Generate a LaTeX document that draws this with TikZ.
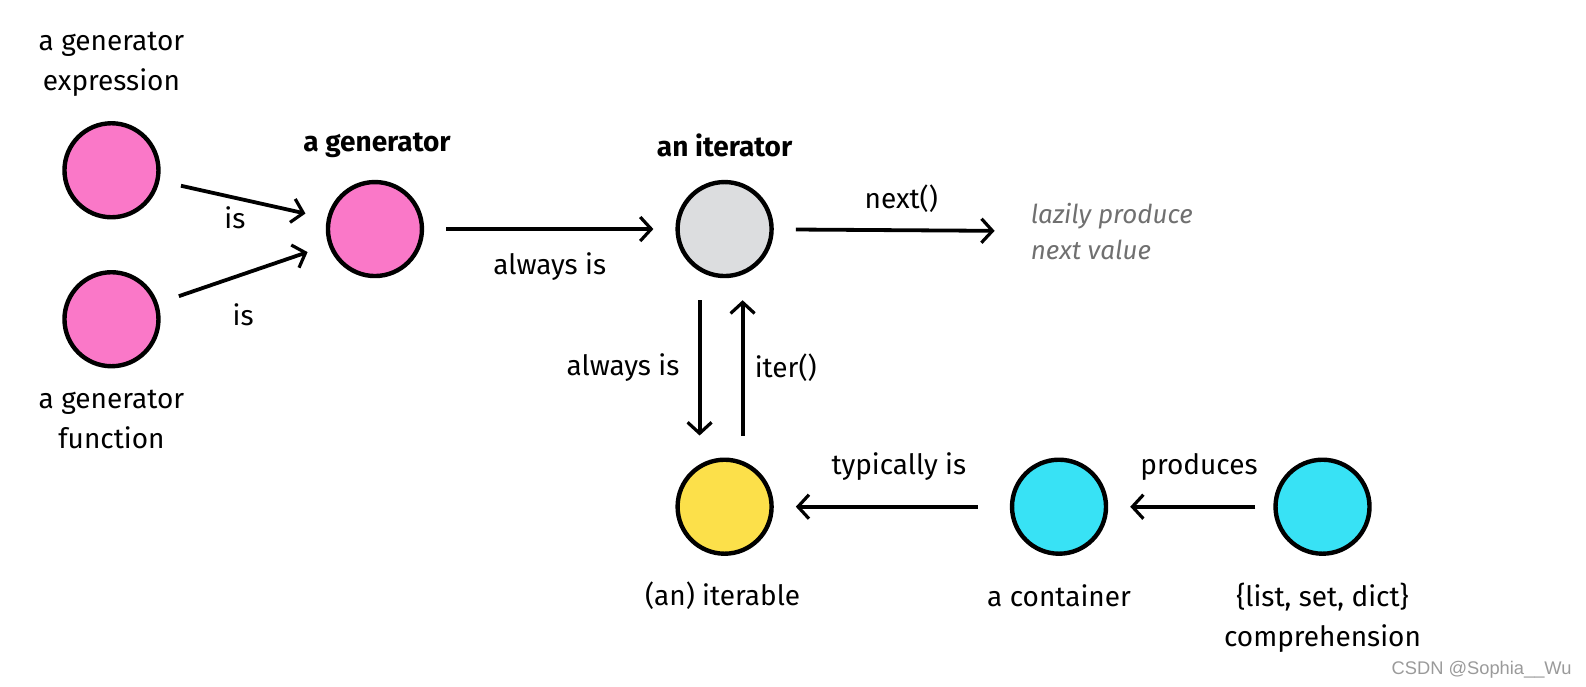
\documentclass[tikz,border=0pt]{standalone}
\usepackage{fontspec}
\setmainfont{Fira Sans}
\newfontfamily\markfont{Liberation Sans}
\usetikzlibrary{positioning, arrows.meta}
\definecolor{genpink}{HTML}{FA78C8}
\definecolor{itergray}{HTML}{DCDDDF}
\definecolor{iteryellow}{HTML}{FCE04A}
\definecolor{contcyan}{HTML}{38E2F5}
\definecolor{lazygray}{HTML}{707070}
\definecolor{markgray}{HTML}{9A9A9A}
\tikzset{
  thing/.style={
    circle,
    draw=black, line width=4.4pt,
    minimum size=94pt,
    inner sep=0pt
  },
  caption/.style={
    align=center,
    inner sep=2pt
  },
  heading/.style={
    caption,
    font=\fontsize{28}{40}\selectfont\bfseries
  },
  link/.style={
    draw=black,
    line width=3.8pt,
    -{Straight Barb[length=11pt,width=24pt,line width=3.2pt]},
    shorten <=22pt,
    shorten >=22pt
  }
}

\begin{document}
\begin{tikzpicture}[x=1.0134pt, y=-1.0134pt, font=\fontsize{28}{40}\selectfont]
% Generators and iterators
\useasboundingbox (0,0) rectangle (1565,677);

% nodes
\node[thing, fill=genpink] (genexpr) at (110,168) {};
\node[thing, fill=genpink] (genfunc) at (110,315) {};
\node[thing, fill=genpink] (gen) at (370,226) {};
\node[thing, fill=itergray] (iter) at (715,226) {};
\node[thing, fill=iteryellow] (iterable) at (715,500) {};
\node[thing, fill=contcyan] (cont) at (1045,500) {};
\node[thing, fill=contcyan] (comp) at (1305,500) {};

\node[caption] (genexprtext) at (110,63) {a generator\\expression};
\node[caption] (genfunctext) at (110,414) {a generator\\function};
\node[heading] (gentext) at (372,143) {a generator};
\node[heading] (itertext) at (715,143) {an iterator};
\node[caption, anchor=west, align=left, text=lazygray,
      font=\fontsize{26}{36}\selectfont\itshape] (lazy) at (1015,228) {lazily produce\\next value};
\node[caption] (iterabletext) at (713,588) {(an) iterable};
\node[caption] (conttext) at (1045,588) {a container};
\node[caption] (comptext) at (1305,610) {\{list, set, dict\}\\comprehension};

% edges
\draw [link] (genexpr) -- node[pos=0.45, below=4pt]{is} (gen);
\draw [link] (genfunc) -- node[below=24pt]{is} (gen);
\draw [link] (gen) -- node[below=18pt]{always is} (iter);
\draw [link, shorten >=34pt] (iter) -- node[above=12pt]{next()} (lazy.west);

\draw [link] ([xshift=-25pt]iter.south) -- node[left=15pt]{always is} ([xshift=-25pt]iterable.north);
\draw [link] ([xshift=18pt]iterable.north) -- node[right=7pt]{iter()} ([xshift=18pt]iter.south);

\draw [link, shorten <=32pt] (cont) -- node[pos=0.47, above=21pt]{typically is} (iterable);
\draw [link, shorten <=18pt] (comp) -- node[pos=0.45, above=21pt]{produces} (cont);

% watermark
\node[anchor=east, text=markgray, inner sep=0pt, font=\markfont\fontsize{18.3}{20}\selectfont] (mark) at (1551,661) {CSDN @Sophia\_\_Wu};

\end{tikzpicture}
\end{document}
